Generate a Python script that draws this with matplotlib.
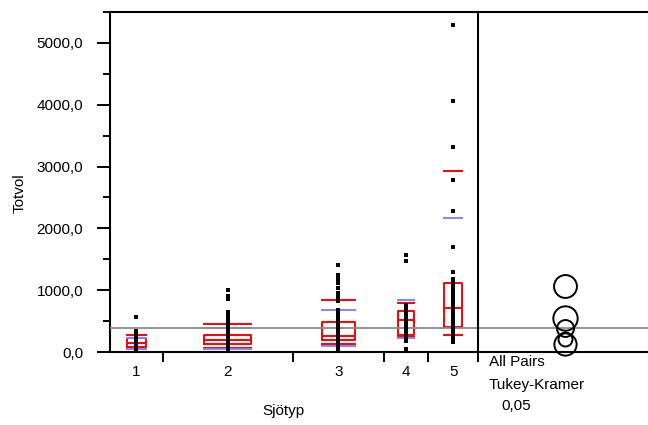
#!/usr/bin/env python3

import matplotlib
matplotlib.use('Agg')
import matplotlib.pyplot as plt
import numpy as np

# Groups (x axis is proportional to group size)
groups = ['1', '2', '3', '4', '5']
n_obs = [38, 94, 66, 32, 36]

# Visible observations per group (Totvol)
vals_1 = [560, 340, 300, 260, 220, 190, 160, 130, 100, 70, 40, 15]
vals_2 = [1010, 900, 850, 640, 600, 545, 500, 450, 400, 350, 300, 250, 200,
          160, 120, 80, 40, 10]
vals_3 = [1400, 1240, 1180, 1110, 1030, 960, 890, 830, 680, 630, 580, 530,
          480, 430, 380, 330, 280, 230, 180, 130, 80, 30]
vals_4 = [1565, 1480, 760, 700, 640, 580, 520, 460, 400, 340, 280, 220, 170, 45]
vals_5 = [5290, 4053, 3311, 2790, 2279, 1699, 1296, 1188, 1120, 1060, 1000,
          940, 880, 820, 760, 700, 640, 580, 520, 460, 400, 340, 280, 220, 160]
values = [vals_1, vals_2, vals_3, vals_4, vals_5]

# Quantiles (10, 25, 50, 75, 90 %)
q10 = [43, 70, 135, 240, 274]
q25 = [86, 129, 190, 274, 400]
q50 = [150, 194, 265, 516, 704]
q75 = [225, 274, 485, 670, 1110]
q90 = [280, 460, 849, 796, 2924]

# Mean +/- std dev lines
sd_hi = [226, 392, 672, 849, 2166]
sd_lo = [43, 43, 100, 220, np.nan]

# Comparison circles (All Pairs Tukey-Kramer)
means = [135, 218, 386, 545, 1065]
circle_radius = [180, 113, 137, 197, 185]

grand_mean = 396


def oneway_plot(outfile):
    plt.rcParams['font.family'] = ['Liberation Sans', 'DejaVu Sans']
    W, H, dpi = 648, 425, 100
    fig = plt.figure(figsize=(W / dpi, H / dpi), dpi=dpi)

    left, right, top, bottom = 110, 478, 12, 352
    ax = fig.add_axes([left / W, 1 - bottom / H, (right - left) / W, (bottom - top) / H])
    ax2 = fig.add_axes([right / W, 1 - bottom / H, (W - right) / W, (bottom - top) / H], sharey=ax)

    bounds = np.concatenate([[0], np.cumsum(n_obs)])
    centers = (bounds[:-1] + bounds[1:]) / 2

    red = '#ff0000'
    blue = '#8484ff'
    for i, c in enumerate(centers):
        bw = 0.36 * n_obs[i]
        x0, x1 = c - bw / 2, c + bw / 2
        # quantile box
        ax.plot([x0, x1, x1, x0, x0], [q25[i], q25[i], q75[i], q75[i], q25[i]],
                color=red, lw=1.4, zorder=2)
        for q in (q10[i], q50[i], q90[i]):
            ax.plot([x0, x1], [q, q], color=red, lw=1.4, zorder=2)
        # std dev lines
        for s in (sd_hi[i], sd_lo[i]):
            if not np.isnan(s):
                ax.plot([x0, x1], [s, s], color=blue, lw=1.4, zorder=2)
        # points
        ax.plot([c] * len(values[i]), values[i], 's', color='black',
                markersize=3.1, markeredgewidth=0, zorder=4, clip_on=False)

    ax.axhline(grand_mean, color='#8c8c8c', lw=1.3, zorder=3)
    ax2.axhline(grand_mean, color='#8c8c8c', lw=1.3, zorder=1)

    # Axes
    ax.set_xlim(0, bounds[-1])
    ax.set_ylim(0, 5500)
    ax.set_yticks(np.arange(0, 5001, 1000))
    ax.set_yticklabels([f'{v:.1f}'.replace('.', ',') for v in np.arange(0, 5001, 1000)])
    ax.set_yticks(np.arange(500, 5501, 1000), minor=True)
    ax.tick_params(axis='y', which='major', length=9.4, width=1.4, labelsize=11, pad=10)
    ax.tick_params(axis='y', which='minor', length=5, width=1.4)

    ax.set_xticks(bounds[1:])
    ax.set_xticklabels([])
    ax.set_xticks(centers, minor=True)
    ax.set_xticklabels(groups, minor=True)
    ax.tick_params(axis='x', which='major', length=7, width=1.4)
    ax.tick_params(axis='x', which='minor', length=0, labelsize=11, pad=9)

    for s in ['left', 'top', 'bottom']:
        ax.spines[s].set_linewidth(1.5)
    ax.spines['right'].set_visible(False)

    # Right panel: comparison circles
    ax2.set_xlim(0, 1)
    for s in ['left', 'top', 'bottom']:
        ax2.spines[s].set_linewidth(1.5)
    ax2.spines['right'].set_visible(False)
    ax2.set_xticks([0])
    ax2.set_xticklabels([])
    ax2.tick_params(axis='x', length=7, width=1.4)
    ax2.tick_params(axis='y', which='both', left=False, labelleft=False)

    px_per_unit = (bottom - top) / 5500
    for m, r in zip(means, circle_radius):
        diam_pt = 2 * r * px_per_unit * 72 / dpi
        ax2.plot(0.51, m, 'o', markersize=diam_pt, markerfacecolor='none',
                 markeredgecolor='black', markeredgewidth=1.4, zorder=3, clip_on=False)

    # Labels
    fig.text(283 / W, 1 - 411 / H, 'Sjötyp', ha='center', va='center', fontsize=11)
    fig.text(20 / W, 1 - 193 / H, 'Totvol', ha='center', va='center', rotation=90, fontsize=11)
    fig.text(489 / W, 1 - 362 / H, 'All Pairs', ha='left', va='center', fontsize=11)
    fig.text(489 / W, 1 - 385 / H, 'Tukey-Kramer', ha='left', va='center', fontsize=11)
    fig.text(501 / W, 1 - 406 / H, '0,05', ha='left', va='center', fontsize=11)

    fig.savefig(outfile, dpi=dpi)


if __name__ == '__main__':
    oneway_plot('out.png')
